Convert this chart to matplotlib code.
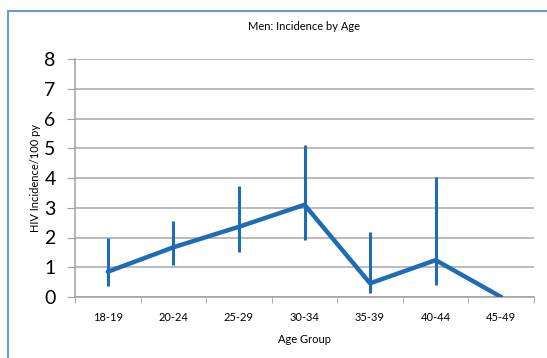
import numpy as np
import matplotlib.pyplot as plt
from matplotlib.patches import Rectangle

age_groups = ['18-19', '20-24', '25-29', '30-34', '35-39', '40-44', '45-49']
incidence = [0.85, 1.67, 2.36, 3.1, 0.46, 1.24, 0.0]
ci_low = [0.37, 1.08, 1.5, 1.9, 0.13, 0.4, 0.0]
ci_high = [1.98, 2.54, 3.72, 5.1, 2.2, 4.02, 0.0]

blue = '#1f6cb4'
plt.rcParams['font.family'] = ['Lato', 'DejaVu Sans']

fig = plt.figure(figsize=(5.47, 3.58), dpi=100)
fig.patch.set_facecolor('white')
fig.patches.append(Rectangle((8 / 547, -0.05), 1.2, 1 - 11 / 358 + 0.05,
                             transform=fig.transFigure, fill=False,
                             edgecolor='#6a9bd1', linewidth=1.5))

ax = fig.add_axes([75 / 547, 1 - 297 / 358, (534 - 75) / 547, (297 - 59) / 358])

x = np.arange(len(age_groups))
inc = np.array(incidence)
lo = np.array(ci_low)
hi = np.array(ci_high)
has_err = hi > 0
ax.errorbar(x[has_err], inc[has_err],
            yerr=[inc[has_err] - lo[has_err], hi[has_err] - inc[has_err]],
            fmt='none', ecolor=blue, elinewidth=2.2, capsize=0, zorder=3)
ax.plot(x, inc, color=blue, linewidth=3.2, solid_capstyle='round', zorder=4)

ax.set_xlim(-0.5, len(age_groups) - 0.5)
ax.set_ylim(0, 8)
ax.set_yticks(range(0, 9))
ax.tick_params(axis='y', labelsize=14, length=6, color='#a0a0a0', pad=8)
ax.set_xticks(x)
ax.set_xticklabels(age_groups, fontsize=8)
ax.tick_params(axis='x', length=0, pad=11)
ax.set_xticks(np.arange(-0.5, len(age_groups)), minor=True)
ax.tick_params(axis='x', which='minor', length=4, color='#a0a0a0')

ax.grid(axis='y', color='#a8a8a8', linewidth=1.1)
ax.set_axisbelow(True)
for s in ['top', 'right']:
    ax.spines[s].set_visible(False)
for s in ['left', 'bottom']:
    ax.spines[s].set_color('#a0a0a0')
    ax.spines[s].set_linewidth(1.1)

ax.set_title('Men: Incidence by Age', fontsize=8, pad=21)
ax.set_xlabel('Age Group', fontsize=8, labelpad=8)
ax.set_ylabel('HIV Incidence/100 py', fontsize=8, labelpad=2)

fig.savefig('out.png', dpi=100)
